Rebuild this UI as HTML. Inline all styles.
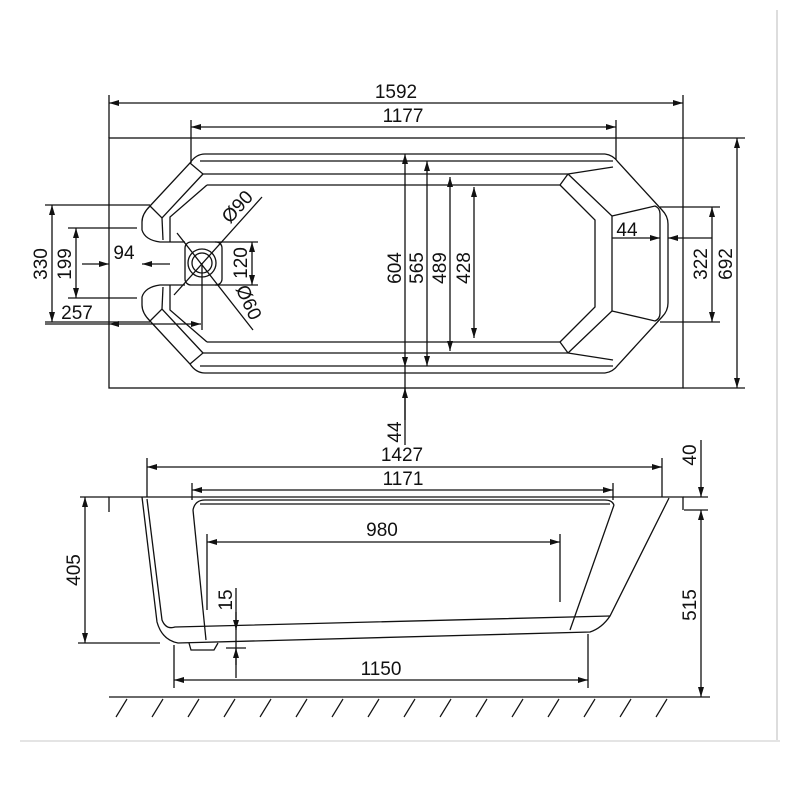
<!DOCTYPE html>
<html><head><meta charset="utf-8"><style>
html,body{margin:0;padding:0;background:#fff;}
svg{display:block;}
text{font-family:"Liberation Sans",Arial,sans-serif;font-size:19px;fill:#111;}
</style></head><body>
<svg width="800" height="800" viewBox="0 0 800 800" xmlns="http://www.w3.org/2000/svg">
<defs>
<marker id="a" viewBox="0 0 10 6" refX="10" refY="3" markerWidth="10" markerHeight="6" markerUnits="userSpaceOnUse" orient="auto-start-reverse"><path d="M0,0L10,3L0,6z" fill="#111"/></marker>
</defs>
<g stroke="#111" stroke-width="1.3" fill="none">
<line x1="777" y1="10" x2="777" y2="740" stroke="#ddd" stroke-width="2"/>
<line x1="20" y1="741" x2="780" y2="741" stroke="#e4e4e4" stroke-width="2"/>

<!-- TOP VIEW -->
<rect x="109" y="138" width="574" height="250"/>
<line x1="109" y1="95" x2="109" y2="138"/><line x1="683" y1="95" x2="683" y2="138"/>
<line x1="109" y1="103" x2="683" y2="103" marker-start="url(#a)" marker-end="url(#a)"/>
<line x1="191" y1="120" x2="191" y2="163"/><line x1="616" y1="120" x2="616" y2="160"/>
<line x1="191" y1="127" x2="616" y2="127" marker-start="url(#a)" marker-end="url(#a)"/>

<path d="M605,154 L205,154 Q196,154 190,163 L150,206 Q142,214 142,222 L142,230 Q145,240 160,242 L185,242"/>
<path d="M605,373 L205,373 Q196,373 190,364 L150,321 Q142,313 142,305 L142,297 Q145,287 160,285 L185,285"/>
<path d="M605,154 Q613,155 618,162 L662,210 Q668,216 668,224 L668,303 Q668,311 662,317 L618,365 Q613,372 605,373"/>
<line x1="200" y1="161" x2="613" y2="161"/><line x1="200" y1="366" x2="613" y2="366"/>
<line x1="203" y1="174" x2="568" y2="174"/><line x1="203" y1="353" x2="568" y2="353"/>
<line x1="207" y1="185" x2="560" y2="185"/><line x1="207" y1="342" x2="560" y2="342"/>
<path d="M190,163 L203,174 L162,218 L150,206"/>
<path d="M207,185 L170,217 L170,242"/><line x1="162" y1="218" x2="163" y2="240"/>
<path d="M190,364 L203,353 L162,309 L150,321"/>
<path d="M207,342 L170,310 L170,285"/><line x1="162" y1="309" x2="163" y2="287"/>
<rect x="185" y="242" width="37" height="43" rx="6"/>
<circle cx="202" cy="263" r="14"/><circle cx="202" cy="263" r="10"/>
<line x1="177" y1="233" x2="253" y2="330"/>
<line x1="262" y1="197" x2="174" y2="295"/>
<line x1="202" y1="263" x2="202" y2="330"/>
<path d="M568,174 L613,167"/><path d="M568,353 L613,360"/>
<path d="M560,185 L595,220 L595,307 L560,342"/>
<path d="M568,174 L612,216 L612,311 L568,353"/>
<path d="M612,216 L655,206 Q660,208 660,214 L660,313 Q660,319 655,321 L612,311"/>
<line x1="560" y1="185" x2="568" y2="174"/><line x1="560" y1="342" x2="568" y2="353"/>

<!-- left dims -->
<line x1="45" y1="205" x2="150" y2="205"/><line x1="45" y1="322" x2="150" y2="322"/>
<line x1="52" y1="205" x2="52" y2="322" marker-start="url(#a)" marker-end="url(#a)"/>
<line x1="68" y1="228" x2="137" y2="228"/><line x1="68" y1="298" x2="137" y2="298"/>
<line x1="76" y1="228" x2="76" y2="298" marker-start="url(#a)" marker-end="url(#a)"/>
<line x1="82" y1="264" x2="109" y2="264" marker-end="url(#a)"/>
<line x1="170" y1="264" x2="142" y2="264" marker-end="url(#a)"/>
<line x1="45" y1="324" x2="109" y2="324"/>
<line x1="109" y1="324" x2="201" y2="324" marker-start="url(#a)" marker-end="url(#a)"/>
<line x1="215" y1="242" x2="258" y2="242"/><line x1="215" y1="285" x2="258" y2="285"/>
<line x1="252" y1="242" x2="252" y2="285" marker-start="url(#a)" marker-end="url(#a)"/>

<!-- right dims -->
<line x1="660" y1="207" x2="720" y2="207"/><line x1="660" y1="322" x2="720" y2="322"/>
<line x1="712" y1="207" x2="712" y2="322" marker-start="url(#a)" marker-end="url(#a)"/>
<line x1="683" y1="138" x2="745" y2="138"/><line x1="683" y1="388" x2="745" y2="388"/>
<line x1="737" y1="138" x2="737" y2="388" marker-start="url(#a)" marker-end="url(#a)"/>
<line x1="612" y1="238" x2="660" y2="238" marker-end="url(#a)"/>
<line x1="712" y1="238" x2="668" y2="238" marker-end="url(#a)"/>

<!-- center verticals -->
<line x1="405" y1="154" x2="405" y2="367" marker-start="url(#a)" marker-end="url(#a)"/>
<line x1="405" y1="367" x2="405" y2="445"/>
<line x1="405" y1="420" x2="405" y2="388" marker-end="url(#a)"/>
<line x1="427" y1="161" x2="427" y2="366" marker-start="url(#a)" marker-end="url(#a)"/>
<line x1="450" y1="177" x2="450" y2="351" marker-start="url(#a)" marker-end="url(#a)"/>
<line x1="474" y1="187" x2="474" y2="338" marker-start="url(#a)" marker-end="url(#a)"/>

<!-- SIDE VIEW -->
<path d="M109,512 L109,497 L683,497 L683,510"/>
<line x1="147" y1="458" x2="147" y2="497"/><line x1="662" y1="458" x2="662" y2="497"/>
<line x1="147" y1="467" x2="662" y2="467" marker-start="url(#a)" marker-end="url(#a)"/>
<line x1="192" y1="483" x2="192" y2="500"/><line x1="613" y1="483" x2="613" y2="500"/>
<line x1="192" y1="490" x2="613" y2="490" marker-start="url(#a)" marker-end="url(#a)"/>
<path d="M142,497 L157,622 Q162,640 178,643 L590,632 Q602,628 610,616 L669,498"/>
<path d="M147,499 L162,620 Q166,630 175,627 L610,616"/>
<path d="M193,510 Q195,500 205,500 L605,500 Q612,500 614,505"/>
<line x1="200" y1="504" x2="610" y2="504"/>
<path d="M193,510 L206,640"/>
<path d="M614,505 L570,630"/>
<path d="M189,643 L191,650 L214,650 L218,643"/>
<line x1="207" y1="534" x2="207" y2="610"/><line x1="560" y1="534" x2="560" y2="602"/>
<line x1="207" y1="542" x2="560" y2="542" marker-start="url(#a)" marker-end="url(#a)"/>
<line x1="236" y1="588" x2="236" y2="678"/>
<line x1="236" y1="612" x2="236" y2="630" marker-end="url(#a)"/>
<line x1="236" y1="665" x2="236" y2="648" marker-end="url(#a)"/>
<line x1="226" y1="648" x2="246" y2="648"/>
<line x1="174" y1="645" x2="174" y2="688"/><line x1="588" y1="634" x2="588" y2="688"/>
<line x1="174" y1="680" x2="588" y2="680" marker-start="url(#a)" marker-end="url(#a)"/>
<line x1="80" y1="497" x2="109" y2="497"/><line x1="78" y1="643" x2="160" y2="643"/>
<line x1="85" y1="497" x2="85" y2="643" marker-start="url(#a)" marker-end="url(#a)"/>
<line x1="683" y1="497" x2="708" y2="497"/><line x1="684" y1="510" x2="708" y2="510"/>
<line x1="701" y1="440" x2="701" y2="497" marker-end="url(#a)"/>
<line x1="701" y1="510" x2="701" y2="697" marker-start="url(#a)" marker-end="url(#a)"/>
<line x1="683" y1="697" x2="710" y2="697"/>
<line x1="109" y1="697" x2="683" y2="697"/>
<g stroke-width="1.2">
<line x1="127" y1="699" x2="116" y2="717"/><line x1="163" y1="699" x2="152" y2="717"/><line x1="199" y1="699" x2="188" y2="717"/><line x1="235" y1="699" x2="224" y2="717"/><line x1="271" y1="699" x2="260" y2="717"/><line x1="307" y1="699" x2="296" y2="717"/><line x1="343" y1="699" x2="332" y2="717"/><line x1="379" y1="699" x2="368" y2="717"/><line x1="415" y1="699" x2="404" y2="717"/><line x1="451" y1="699" x2="440" y2="717"/><line x1="487" y1="699" x2="476" y2="717"/><line x1="523" y1="699" x2="512" y2="717"/><line x1="559" y1="699" x2="548" y2="717"/><line x1="595" y1="699" x2="584" y2="717"/><line x1="631" y1="699" x2="620" y2="717"/><line x1="667" y1="699" x2="656" y2="717"/>
</g>
</g>

<g>
<text x="396" y="98" text-anchor="middle">1592</text>
<text x="403" y="122" text-anchor="middle">1177</text>
<text x="124" y="259" text-anchor="middle">94</text>
<text x="77" y="319" text-anchor="middle">257</text>
<text x="627" y="236" text-anchor="middle">44</text>
<text x="402" y="461" text-anchor="middle">1427</text>
<text x="403" y="485" text-anchor="middle">1171</text>
<text x="382" y="536" text-anchor="middle">980</text>
<text x="381" y="675" text-anchor="middle">1150</text>
<text transform="translate(47,264) rotate(-90)" text-anchor="middle">330</text>
<text transform="translate(71,264) rotate(-90)" text-anchor="middle">199</text>
<text transform="translate(247,263) rotate(-90)" text-anchor="middle">120</text>
<text transform="translate(242,211) rotate(-48)" text-anchor="middle">Ø90</text>
<text transform="translate(243,305) rotate(65)" text-anchor="middle">Ø60</text>
<text transform="translate(707,264) rotate(-90)" text-anchor="middle">322</text>
<text transform="translate(732,264) rotate(-90)" text-anchor="middle">692</text>
<text transform="translate(401,268) rotate(-90)" text-anchor="middle">604</text>
<text transform="translate(423,268) rotate(-90)" text-anchor="middle">565</text>
<text transform="translate(446,268) rotate(-90)" text-anchor="middle">489</text>
<text transform="translate(470,268) rotate(-90)" text-anchor="middle">428</text>
<text transform="translate(401,432) rotate(-90)" text-anchor="middle">44</text>
<text transform="translate(80,570) rotate(-90)" text-anchor="middle">405</text>
<text transform="translate(232,600) rotate(-90)" text-anchor="middle">15</text>
<text transform="translate(696,455) rotate(-90)" text-anchor="middle">40</text>
<text transform="translate(696,605) rotate(-90)" text-anchor="middle">515</text>
</g>
</svg>
</body></html>
